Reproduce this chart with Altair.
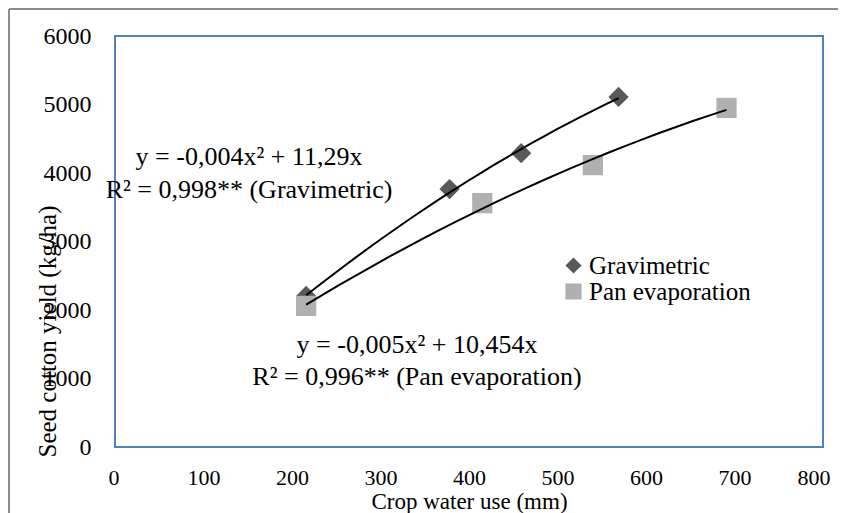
import altair as alt
import pandas as pd

# ---- data ----
grav_x = [216, 378, 459, 569]
grav_y = [2205, 3765, 4290, 5110]
pan_x = [216, 415, 540, 691]
pan_y = [2060, 3560, 4115, 4950]
series_names = ["Gravimetric", "Pan evaporation"]
x_ticks = [0, 100, 200, 300, 400, 500, 600, 700, 800]
y_ticks = [0, 1000, 2000, 3000, 4000, 5000, 6000]
grav_eq = ["y = -0,004x\u00b2 + 11,29x", "R\u00b2 = 0,998** (Gravimetric)"]
pan_eq = ["y = -0,005x\u00b2 + 10,454x", "R\u00b2 = 0,996** (Pan evaporation)"]

FONT = "Liberation Serif"

df = pd.DataFrame({
    "x": grav_x + pan_x,
    "y": grav_y + pan_y,
    "series": [series_names[0]] * len(grav_x) + [series_names[1]] * len(pan_x),
})
one = pd.DataFrame({"k": [0]})

xscale = alt.Scale(domain=[0, 800], nice=False, zero=True)
yscale = alt.Scale(domain=[0, 6000], nice=False, zero=True)

xaxis = alt.Axis(values=x_ticks, format="d", title="Crop water use (mm)", grid=False,
                 domain=False, ticks=False, labelPadding=20, labelFont=FONT,
                 labelFontSize=22, labelColor="black", titleFont=FONT, titleFontSize=23,
                 titleFontWeight="normal", titleColor="black", titleY=54,
                 titleBaseline="middle", labelFlush=True, labelFlushOffset=7)
yaxis = alt.Axis(values=y_ticks, format="d", title="Seed cotton yield (kg/ha)", grid=False,
                 domain=False, ticks=False, labelPadding=24, labelFont=FONT,
                 labelFontSize=24, labelColor="black", titleFont=FONT,
                 titleFontSize=25, titleFontWeight="normal", titleColor="black",
                 titleX=-68, titleY=295, titleBaseline="middle", titleAlign="center",
                 labelFlush=False)

leg = alt.Legend(title=None, orient="none", legendX=446, legendY=217,
                 labelFont=FONT, labelFontSize=25, labelColor="black", labelLimit=400,
                 symbolSize=260, symbolStrokeWidth=0, labelOffset=3,
                 rowPadding=0, padding=0)

base = alt.Chart(df)

points = base.mark_point(filled=True, opacity=1, size=410).encode(
    x=alt.X("x:Q", scale=xscale, axis=xaxis),
    y=alt.Y("y:Q", scale=yscale, axis=yaxis),
    shape=alt.Shape("series:N", scale=alt.Scale(domain=series_names, range=["diamond", "square"]),
                    legend=leg),
    color=alt.Color("series:N", scale=alt.Scale(domain=series_names, range=["#595959", "#B0B0B0"]),
                    legend=leg),
)

trend = base.transform_regression(
    "x", "y", groupby=["series"], method="poly", order=2
).mark_line(color="black", strokeWidth=2).encode(
    x=alt.X("x:Q", scale=xscale),
    y=alt.Y("y:Q", scale=yscale),
    detail="series:N",
)


def label(txt, cx, cy):
    return alt.Chart(one).mark_text(font=FONT, fontSize=26, fontWeight="normal",
                                    color="black", align="center",
                                    baseline="middle").encode(
        x=alt.value(cx), y=alt.value(cy), text=alt.value(txt))


labels = [
    label(grav_eq[0], 134, 121),
    label(grav_eq[1], 134, 154),
    label(pan_eq[0], 302, 309),
    label(pan_eq[1], 302, 341),
]

# outer grey frame (top and left edges of the figure box)
frame_left = alt.Chart(one).mark_rule(color="#8c8c8c", strokeWidth=2).encode(
    x=alt.value(-106), y=alt.value(-27), y2=alt.value(490))
frame_top = alt.Chart(one).mark_rule(color="#8c8c8c", strokeWidth=2).encode(
    x=alt.value(-106), x2=alt.value(740), y=alt.value(-27))

chart = alt.layer(points, trend, *labels, frame_left, frame_top).properties(
    width=708, height=411,
    autosize=alt.AutoSizeParams(type="none"),
    padding={"left": 107, "top": 28, "right": 15, "bottom": 66},
).configure(background="white").configure_view(stroke="#4F81BD", strokeWidth=2)

chart.save("out.html", embed_options={"renderer": "svg", "actions": False})
